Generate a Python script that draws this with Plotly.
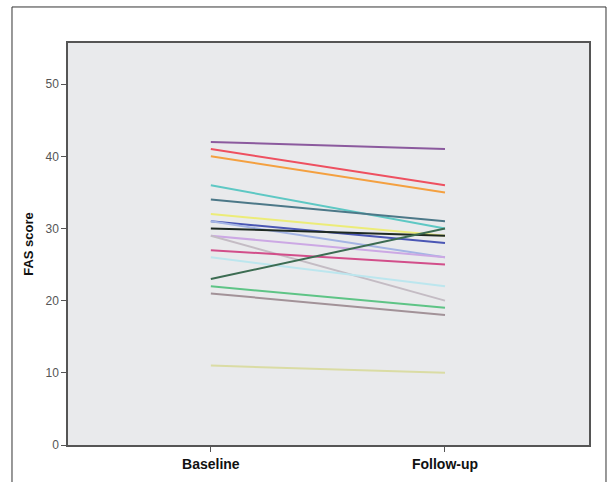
import plotly.graph_objects as go

time_points = ["Baseline", "Follow-up"]
baseline = [42, 41, 40, 36, 34, 32, 31, 31, 30, 29, 29, 27, 26, 23, 22, 21, 11]
follow_up = [41, 36, 35, 30, 31, 29, 28, 26, 29, 26, 20, 25, 22, 30, 19, 18, 10]
colors = ["#8b5a9e", "#ee5060", "#f4a040", "#5ec8c4", "#4c7888", "#ecec78",
          "#4a56b4", "#a4b4e4", "#1e2a22", "#cca8e4", "#c4bcc4", "#d24e8a",
          "#bce6ee", "#3c6c52", "#5ec486", "#a29298", "#dadca4"]
y_ticks = [0, 10, 20, 30, 40, 50]

fig = go.Figure()
for b, f, c in zip(baseline, follow_up, colors):
    fig.add_trace(go.Scatter(x=time_points, y=[b, f], mode="lines",
                             line=dict(color=c, width=2), showlegend=False,
                             hoverinfo="skip"))

fig.update_layout(
    width=608, height=482,
    margin=dict(l=68, r=19, t=43, b=37),
    paper_bgcolor="white",
    plot_bgcolor="#e9eaec",
    font=dict(family="Liberation Sans, Arial, sans-serif", color="#222"),
    xaxis=dict(type="category", range=[-0.61, 1.615], showgrid=False,
               zeroline=False, showline=True, linecolor="#555", linewidth=1.5,
               mirror=True, ticks="outside", ticklen=5, tickcolor="#555",
               automargin=False,
               tickfont=dict(size=14, color="#111", family="Liberation Sans, Arial, sans-serif"),
               tickprefix="<b>", ticksuffix="</b>"),
    yaxis=dict(range=[0, 55.7], tickvals=y_ticks, showgrid=False, zeroline=False,
               showline=True, linecolor="#555", linewidth=1.5, mirror=True,
               ticks="outside", ticklen=5, tickcolor="#555", automargin=False,
               tickfont=dict(size=12, color="#555"),
               title=dict(text="<b>FAS score</b>", font=dict(size=13, color="#111"),
                          standoff=9)),
    shapes=[dict(type="rect", xref="paper", yref="paper",
                 x0=-0.1075, x1=1.0326, y0=-0.3, y1=1.0896,
                 line=dict(color="#333", width=1), fillcolor="rgba(0,0,0,0)",
                 layer="below")],
)

fig.write_html("out.html", config={"displayModeBar": False},
               post_script="document.body.style.margin='0';")
